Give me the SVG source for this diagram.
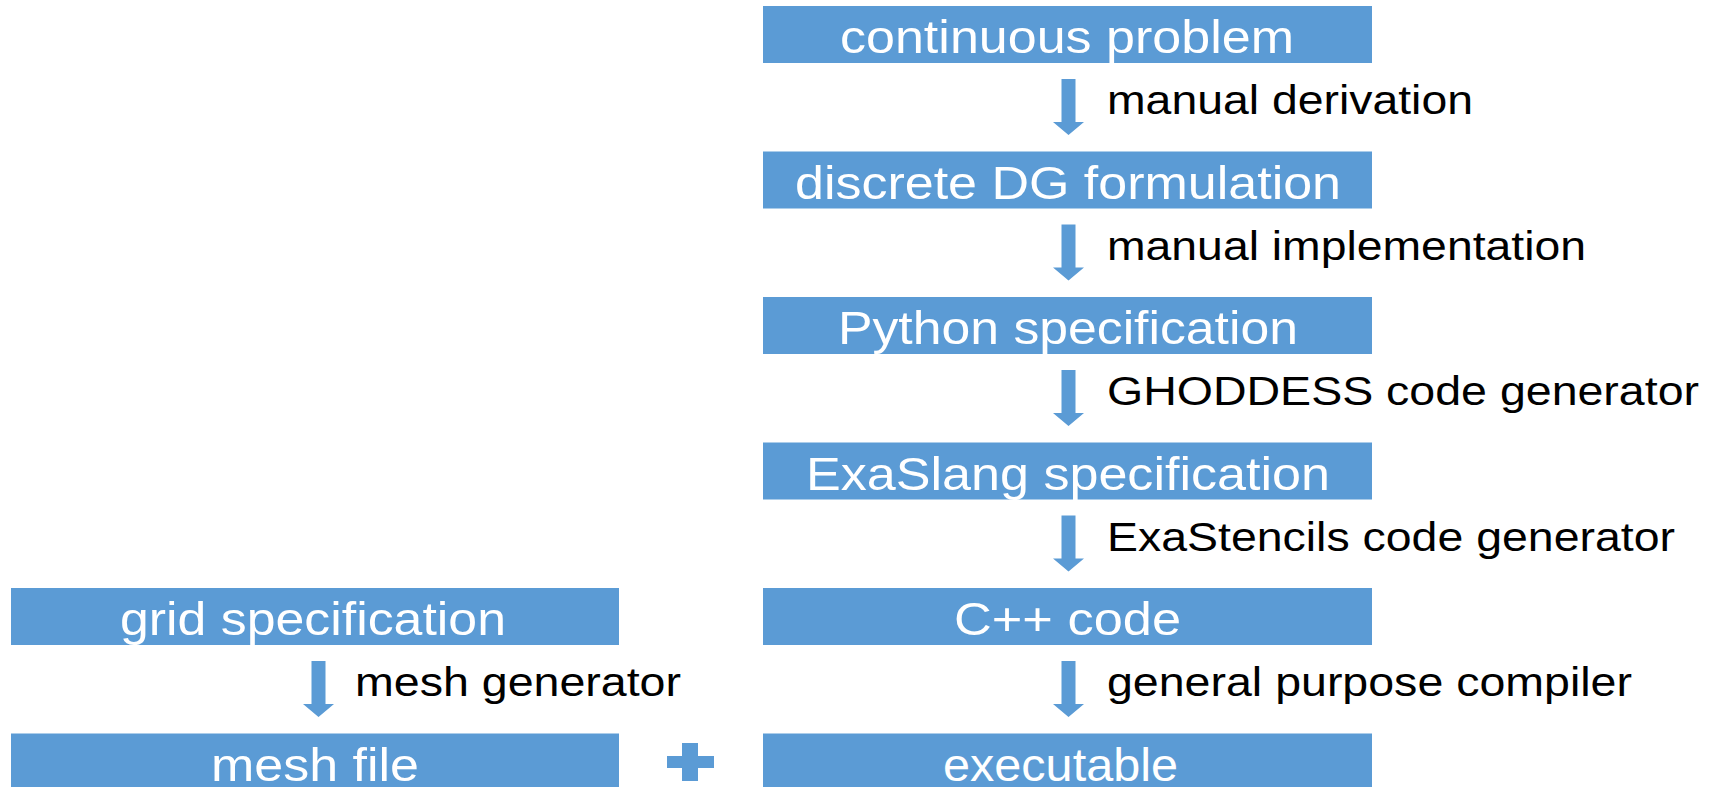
<svg xmlns="http://www.w3.org/2000/svg" width="1715" height="787" viewBox="0 0 1715 787">
<style>
.box{fill:#5B9BD5;}
.bt{font-family:"Liberation Sans",Arial,sans-serif;font-size:47px;fill:#FFFFFF;}
.lb{font-family:"Liberation Sans",Arial,sans-serif;font-size:40px;fill:#000000;}
.ar{fill:#5B9BD5;}
</style>
<defs>
<path id="arrow" d="M-7,0 H7 V43 H15.5 L0,56 L-15.5,43 H-7 Z"/>
</defs>
<rect width="1715" height="787" fill="#FFFFFF"/>
<g id="node-continuous">
<rect class="box" x="763" y="6" width="609" height="57"/>
<text class="bt" x="840" y="53" textLength="454" lengthAdjust="spacingAndGlyphs">continuous problem</text>
</g>
<g id="node-discrete">
<rect class="box" x="763" y="151.5" width="609" height="57"/>
<text class="bt" x="795" y="198.5" textLength="546" lengthAdjust="spacingAndGlyphs">discrete DG formulation</text>
</g>
<g id="node-python">
<rect class="box" x="763" y="297" width="609" height="57"/>
<text class="bt" x="838" y="344" textLength="460" lengthAdjust="spacingAndGlyphs">Python specification</text>
</g>
<g id="node-exaslang">
<rect class="box" x="763" y="442.5" width="609" height="57"/>
<text class="bt" x="806" y="489.5" textLength="524" lengthAdjust="spacingAndGlyphs">ExaSlang specification</text>
</g>
<g id="node-cpp">
<rect class="box" x="763" y="588" width="609" height="57"/>
<text class="bt" x="954" y="635" textLength="227" lengthAdjust="spacingAndGlyphs">C++ code</text>
</g>
<g id="node-executable">
<rect class="box" x="763" y="733.5" width="609" height="57"/>
<text class="bt" x="943" y="780.5" textLength="235" lengthAdjust="spacingAndGlyphs">executable</text>
</g>
<g id="node-grid">
<rect class="box" x="11" y="588" width="608" height="57"/>
<text class="bt" x="120" y="635" textLength="386" lengthAdjust="spacingAndGlyphs">grid specification</text>
</g>
<g id="node-mesh">
<rect class="box" x="11" y="733.5" width="608" height="57"/>
<text class="bt" x="211" y="780.5" textLength="208" lengthAdjust="spacingAndGlyphs">mesh file</text>
</g>
<g id="plus">
<rect class="ar" x="667" y="756" width="47" height="12"/>
<rect class="ar" x="682" y="743" width="16" height="38"/>
</g>
<g id="connectors">
<use href="#arrow" class="ar" x="1068.5" y="79"/>
<use href="#arrow" class="ar" x="1068.5" y="224.5"/>
<use href="#arrow" class="ar" x="1068.5" y="370"/>
<use href="#arrow" class="ar" x="1068.5" y="515.5"/>
<use href="#arrow" class="ar" x="1068.5" y="661"/>
<use href="#arrow" class="ar" x="318.5" y="661"/>
<text class="lb" x="1107" y="114" textLength="366" lengthAdjust="spacingAndGlyphs">manual derivation</text>
<text class="lb" x="1107" y="259.5" textLength="479" lengthAdjust="spacingAndGlyphs">manual implementation</text>
<text class="lb" x="1107" y="405" textLength="592" lengthAdjust="spacingAndGlyphs">GHODDESS code generator</text>
<text class="lb" x="1107" y="550.5" textLength="568" lengthAdjust="spacingAndGlyphs">ExaStencils code generator</text>
<text class="lb" x="1107" y="696" textLength="525" lengthAdjust="spacingAndGlyphs">general purpose compiler</text>
<text class="lb" x="355" y="696" textLength="326" lengthAdjust="spacingAndGlyphs">mesh generator</text>
</g>
</svg>
